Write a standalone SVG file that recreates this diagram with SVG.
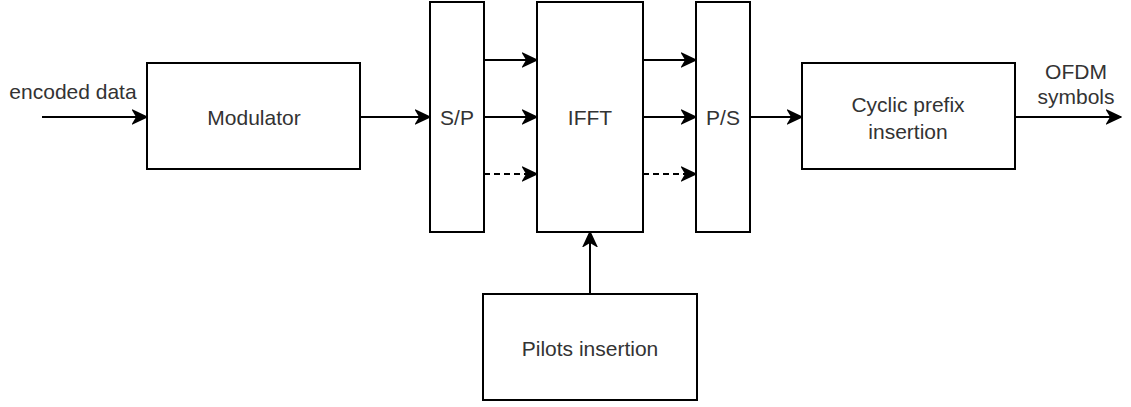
<svg xmlns="http://www.w3.org/2000/svg" width="1131" height="407" viewBox="0 0 1131 407">
<style>
.box{fill:#fff;stroke:#000;stroke-width:2}
.lbl{font-family:"Liberation Sans",Arial,sans-serif;font-size:21px;fill:#333;text-anchor:middle;dominant-baseline:central}
.edge{stroke:#000;stroke-width:2;fill:none;marker-end:url(#arr)}
.dash{stroke-dasharray:6 4}
</style>
<defs>
<marker id="arr" markerUnits="userSpaceOnUse" markerWidth="16" markerHeight="16" viewBox="0 0 16 16" refX="15" refY="8" orient="auto">
<path d="M1,1.5 L15,8 L1,14.5 L5,8 Z" fill="#000" stroke="#000" stroke-width="1.5" stroke-linejoin="miter"/>
</marker>
</defs>
<rect width="1131" height="407" fill="#fff"/>
<g id="connectors">
<line class="edge" x1="42" y1="117" x2="147" y2="117"/>
<line class="edge" x1="360" y1="117" x2="430" y2="117"/>
<line class="edge" x1="484" y1="60" x2="537" y2="60"/>
<line class="edge" x1="484" y1="117" x2="537" y2="117"/>
<line class="edge dash" x1="484" y1="174" x2="537" y2="174"/>
<line class="edge" x1="643" y1="60" x2="696" y2="60"/>
<line class="edge" x1="643" y1="117" x2="696" y2="117"/>
<line class="edge dash" x1="643" y1="174" x2="696" y2="174"/>
<line class="edge" x1="750" y1="117" x2="802" y2="117"/>
<line class="edge" x1="1015" y1="117" x2="1121" y2="117"/>
<line class="edge" x1="590" y1="294" x2="590" y2="232"/>
</g>
<g id="label-encoded">
<text class="lbl" x="73" y="91">encoded data</text>
</g>
<g id="modulator">
<rect class="box" x="147" y="63" width="213" height="106"/>
<text class="lbl" x="254" y="117">Modulator</text>
</g>
<g id="sp">
<rect class="box" x="430" y="2" width="54" height="230"/>
<text class="lbl" x="457" y="117">S/P</text>
</g>
<g id="ifft">
<rect class="box" x="537" y="2" width="106" height="230"/>
<text class="lbl" x="590" y="117">IFFT</text>
</g>
<g id="ps">
<rect class="box" x="696" y="2" width="54" height="230"/>
<text class="lbl" x="723" y="117">P/S</text>
</g>
<g id="cyclic">
<rect class="box" x="802" y="63" width="213" height="106"/>
<text class="lbl" x="908" y="104">Cyclic prefix</text>
<text class="lbl" x="908" y="131">insertion</text>
</g>
<g id="pilots">
<rect class="box" x="483" y="294" width="214" height="106"/>
<text class="lbl" x="590" y="348">Pilots insertion</text>
</g>
<g id="label-ofdm">
<text class="lbl" x="1076" y="71">OFDM</text>
<text class="lbl" x="1076" y="96">symbols</text>
</g>
</svg>
